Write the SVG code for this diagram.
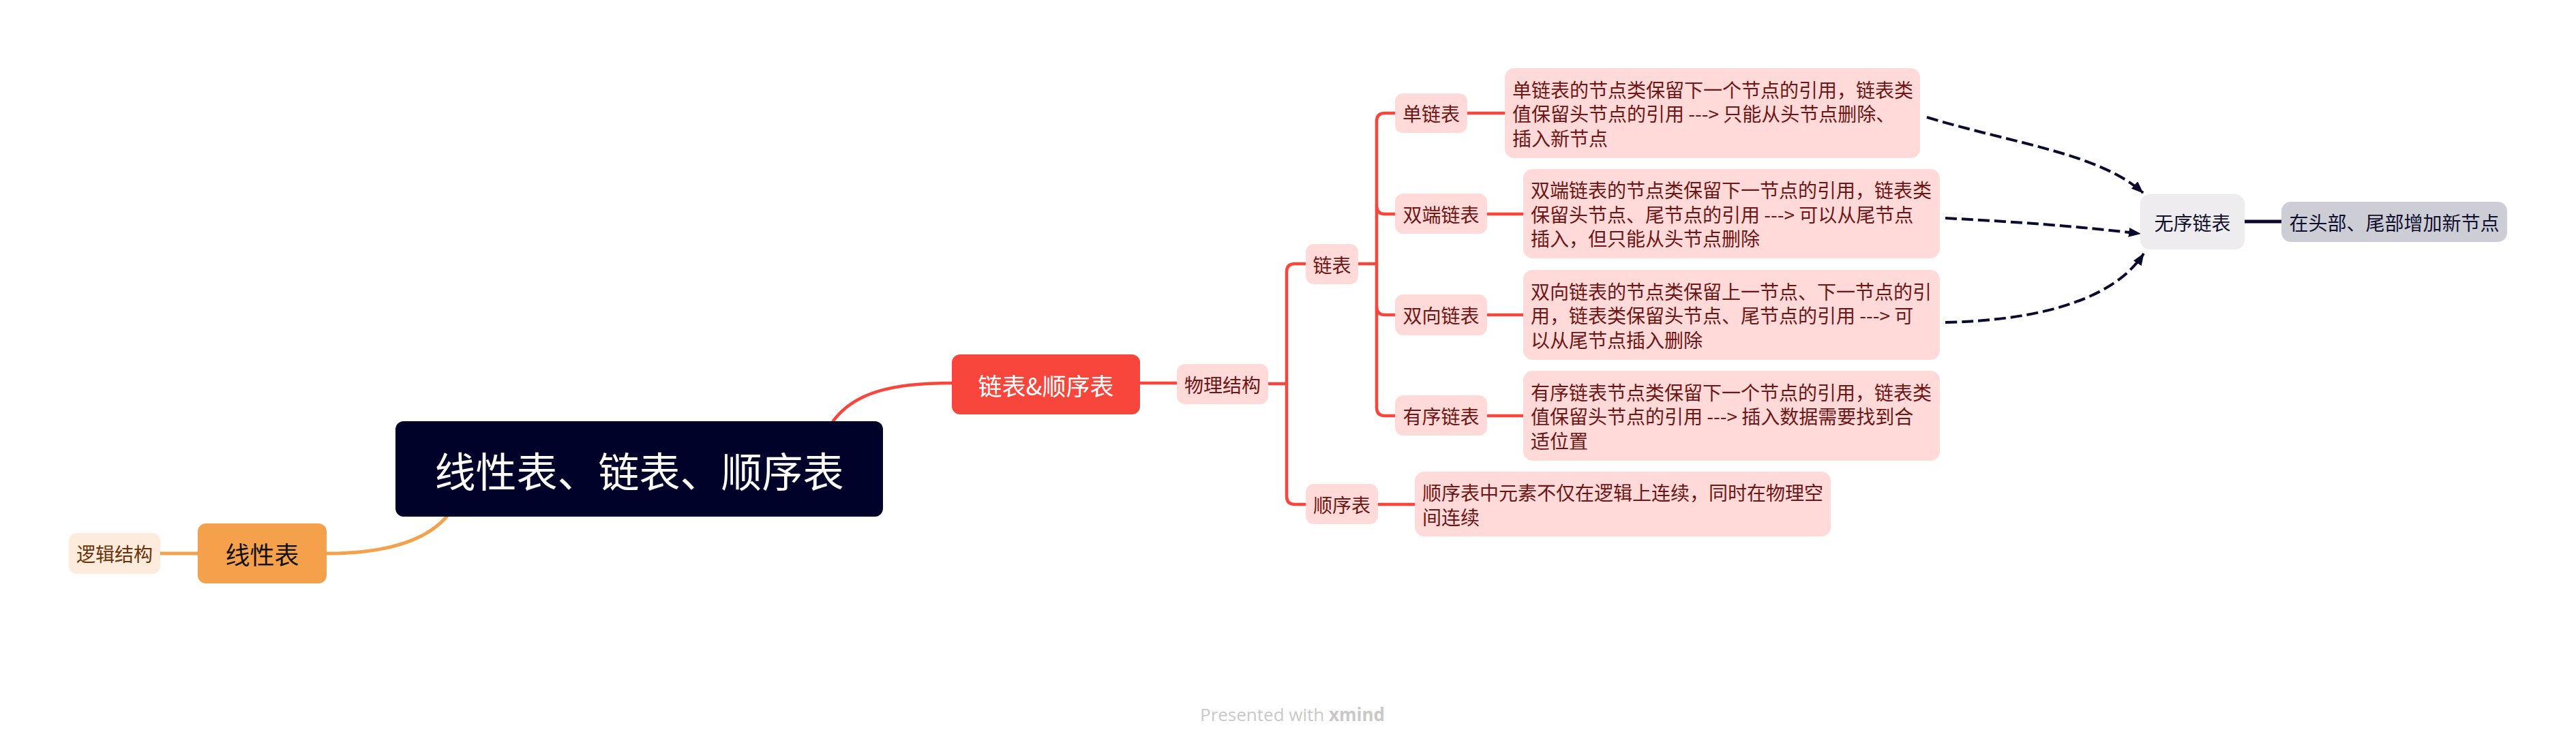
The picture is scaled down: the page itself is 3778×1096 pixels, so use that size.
<svg xmlns="http://www.w3.org/2000/svg" width="3778" height="1096" viewBox="0 0 3778 1096">
<defs>
<style>
text{font-family:"Noto Sans CJK SC","Noto Sans",sans-serif;dominant-baseline:central}
.c{text-anchor:middle}
.pink{fill:#FFDAD8}
.pt{fill:#6E1515;font-size:28px}
.red{fill:none;stroke:#F8463C;stroke-width:4.5;stroke-linecap:round}
.org{fill:none;stroke:#F5A04B;stroke-width:5;stroke-linecap:round}
.rel{fill:none;stroke:#0A0A2E;stroke-width:4;stroke-dasharray:17 7}
</style>
<marker id="ah" viewBox="0 0 18 14" refX="17" refY="7" markerWidth="18" markerHeight="14" orient="auto" markerUnits="userSpaceOnUse">
<path d="M0,0 L18,7 L0,14 z" fill="#0A0A2E"/>
</marker>
</defs>
<rect width="3778" height="1096" fill="#FFFFFF"/>
<g id="connectors">
<path class="org" d="M235,812 H290"/>
<path class="org" d="M479,812 C570,812 630,792 660,752"/>
<path class="red" d="M1219,622 C1250,575 1310,562 1396,562"/>
<path class="red" d="M1672,562 H1726"/>
<path class="red" d="M1860,563 H1887"/>
<path class="red" d="M1915,387 H1899 Q1887,387 1887,399 V728 Q1887,740 1899,740 H1915"/>
<path class="red" d="M1992,387 H2019"/>
<path class="red" d="M2046,166 H2031 Q2019,166 2019,178 V598 Q2019,610 2031,610 H2046"/>
<path class="red" d="M2019,302 Q2019,314 2031,314 H2046"/>
<path class="red" d="M2019,450 Q2019,462 2031,462 H2046"/>
<path class="red" d="M2152,166 H2207"/>
<path class="red" d="M2181,314 H2234"/>
<path class="red" d="M2181,462 H2234"/>
<path class="red" d="M2181,610 H2234"/>
<path class="red" d="M2021,740 H2075"/>
<path fill="none" stroke="#0A0A2E" stroke-width="5" d="M3292,325 H3346"/>
<path class="rel" marker-end="url(#ah)" d="M2826,172 C2950,210 3080,225 3143,283"/>
<path class="rel" marker-end="url(#ah)" d="M2853,320 C2950,325 3050,332 3139,343"/>
<path class="rel" marker-end="url(#ah)" d="M2853,473 C2990,470 3100,440 3144,372"/>
</g>
<g id="root">
<rect x="580" y="618" width="715" height="140" rx="12" fill="#01022A"/>
<text class="c" x="937.5" y="688" font-size="60" fill="#FFFFFF">线性表、链表、顺序表</text>
</g>
<g id="xianxingbiao">
<rect x="290" y="768" width="189" height="88" rx="12" fill="#F5A04B"/>
<text class="c" x="384.5" y="812" font-size="36" fill="#111111">线性表</text>
</g>
<g id="luoji">
<rect x="101" y="782" width="134" height="60" rx="12" fill="#FDEBDC"/>
<text class="c" x="168" y="812" font-size="28" fill="#6A3208">逻辑结构</text>
</g>
<g id="lianbiao-shunxubiao">
<rect x="1396" y="520" width="276" height="88" rx="12" fill="#F8463C"/>
<text class="c" x="1534" y="564" font-size="35" fill="#FFFFFF">链表&amp;顺序表</text>
</g>
<g id="wulijiegou">
<rect class="pink" x="1726" y="534" width="134" height="59" rx="12"/>
<text class="c pt" x="1793" y="563.5">物理结构</text>
</g>
<g id="lianbiao">
<rect class="pink" x="1915" y="358" width="77" height="59" rx="12"/>
<text class="c pt" x="1953.5" y="387.5">链表</text>
</g>
<g id="shunxubiao">
<rect class="pink" x="1915" y="710" width="106" height="59" rx="12"/>
<text class="c pt" x="1968" y="739.5">顺序表</text>
</g>
<g id="danlianbiao">
<rect class="pink" x="2046" y="137" width="106" height="58" rx="12"/>
<text class="c pt" x="2099" y="166">单链表</text>
</g>
<g id="shuangduan">
<rect class="pink" x="2046" y="284" width="135" height="59" rx="12"/>
<text class="c pt" x="2113.5" y="313.5">双端链表</text>
</g>
<g id="shuangxiang">
<rect class="pink" x="2046" y="432" width="135" height="60" rx="12"/>
<text class="c pt" x="2113.5" y="462">双向链表</text>
</g>
<g id="youxu">
<rect class="pink" x="2046" y="580" width="135" height="59" rx="12"/>
<text class="c pt" x="2113.5" y="609.5">有序链表</text>
</g>
<g id="danlianbiao-desc">
<rect class="pink" x="2207" y="100" width="609" height="132" rx="14"/>
<text class="pt" x="2218" y="130.5">单链表的节点类保留下一个节点的引用，链表类</text>
<text class="pt" x="2218" y="166">值保留头节点的引用 ---&gt; 只能从头节点删除、</text>
<text class="pt" x="2218" y="201.5">插入新节点</text>
</g>
<g id="shuangduan-desc">
<rect class="pink" x="2234" y="248" width="611" height="131" rx="14"/>
<text class="pt" x="2245" y="278">双端链表的节点类保留下一节点的引用，链表类</text>
<text class="pt" x="2245" y="313.5">保留头节点、尾节点的引用 ---&gt; 可以从尾节点</text>
<text class="pt" x="2245" y="349">插入，但只能从头节点删除</text>
</g>
<g id="shuangxiang-desc">
<rect class="pink" x="2234" y="396" width="611" height="132" rx="14"/>
<text class="pt" x="2245" y="426.5">双向链表的节点类保留上一节点、下一节点的引</text>
<text class="pt" x="2245" y="462">用，链表类保留头节点、尾节点的引用 ---&gt; 可</text>
<text class="pt" x="2245" y="497.5">以从尾节点插入删除</text>
</g>
<g id="youxu-desc">
<rect class="pink" x="2234" y="544" width="611" height="132" rx="14"/>
<text class="pt" x="2245" y="574.5">有序链表节点类保留下一个节点的引用，链表类</text>
<text class="pt" x="2245" y="610">值保留头节点的引用 ---&gt; 插入数据需要找到合</text>
<text class="pt" x="2245" y="645.5">适位置</text>
</g>
<g id="shunxubiao-desc">
<rect class="pink" x="2075" y="692" width="610" height="95" rx="14"/>
<text class="pt" x="2086" y="722">顺序表中元素不仅在逻辑上连续，同时在物理空</text>
<text class="pt" x="2086" y="757.5">间连续</text>
</g>
<g id="wuxu">
<rect x="3139" y="285" width="153" height="81" rx="14" fill="#EEECEF"/>
<text class="c" x="3215.5" y="325.5" font-size="28" fill="#0F0F2E">无序链表</text>
</g>
<g id="toubu">
<rect x="3346" y="296" width="331" height="59" rx="14" fill="#CDCDD6"/>
<text class="c" x="3511.5" y="325.5" font-size="28" fill="#0F0F2E">在头部、尾部增加新节点</text>
</g>
<g id="watermark">
<text x="1760" y="1048" font-size="26" fill="#C9C9C9" style="font-family:'Open Sans','Liberation Sans',sans-serif">Presented with <tspan font-weight="bold">xmind</tspan></text>
</g>
</svg>
